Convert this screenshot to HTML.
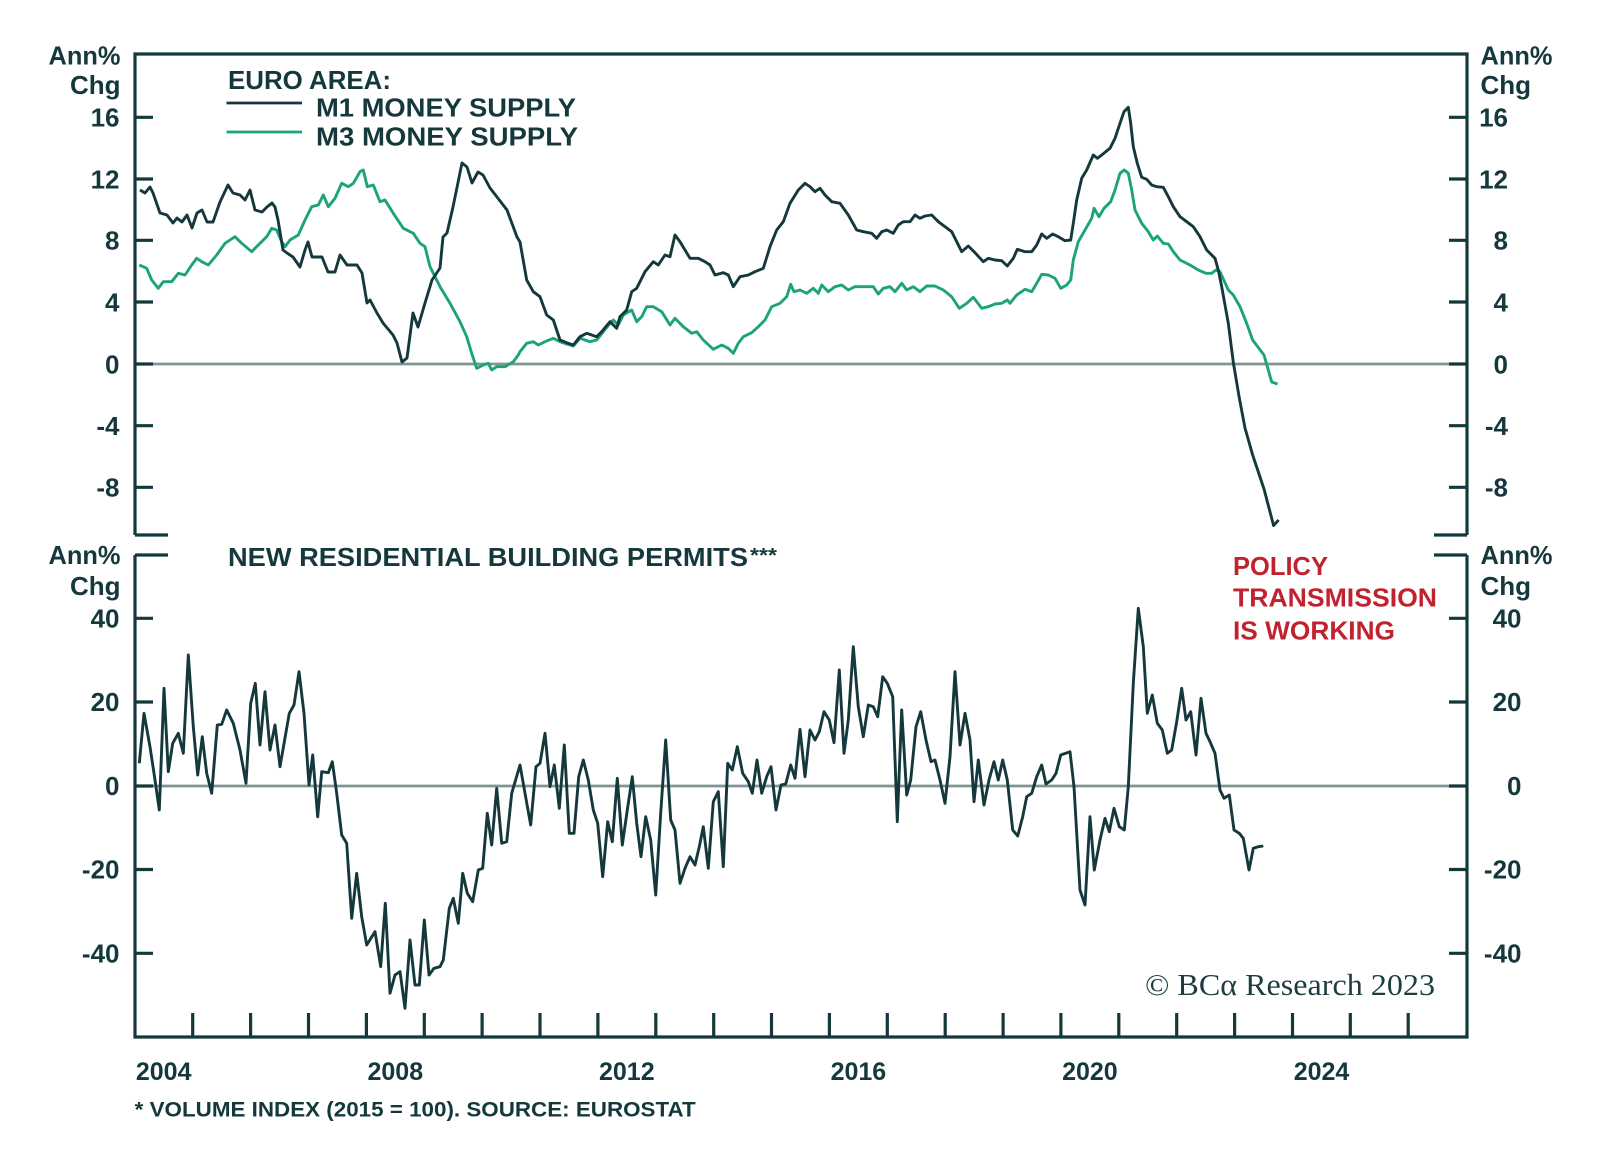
<!DOCTYPE html>
<html>
<head>
<meta charset="utf-8">
<style>
html,body{margin:0;padding:0;background:#ffffff;}
svg{display:block;}
text{font-family:"Liberation Sans",Arial,sans-serif;font-weight:bold;fill:#14383c;}
</style>
</head>
<body>
<svg width="1600" height="1160" viewBox="0 0 1600 1160" xmlns="http://www.w3.org/2000/svg">
<rect x="0" y="0" width="1600" height="1160" fill="#ffffff"/>

<!-- zero lines -->
<line x1="136" y1="364" x2="1466" y2="364" stroke="#7f9594" stroke-width="2.8"/>
<line x1="136" y1="786" x2="1466" y2="786" stroke="#7f9594" stroke-width="2.8"/>

<!-- frames -->
<g stroke="#14383c" stroke-width="3.2" fill="none">
  <polyline points="135,535 135,54 1467,54 1467,535"/>
  <line x1="135" y1="535" x2="168" y2="535"/>
  <line x1="1434" y1="535" x2="1467" y2="535"/>
  <polyline points="135,555 135,1037 1467,1037 1467,555"/>
  <line x1="135" y1="555" x2="168" y2="555"/>
  <line x1="1434" y1="555" x2="1467" y2="555"/>
  <!-- top y ticks -->
  <path d="M135 117.3H153M135 179H153M135 240.3H153M135 302H153M135 364H153M135 425.7H153M135 487.3H153"/>
  <path d="M1449 117.3H1467M1449 179H1467M1449 240.3H1467M1449 302H1467M1449 364H1467M1449 425.7H1467M1449 487.3H1467"/>
  <!-- bottom y ticks -->
  <path d="M135 618.3H153M135 702H153M135 786H153M135 869.5H153M135 953.3H153"/>
  <path d="M1449 618.3H1467M1449 702H1467M1449 786H1467M1449 869.5H1467M1449 953.3H1467"/>
  <!-- x ticks -->
  <path d="M192.7 1013V1037M250.6 1013V1037M308.5 1013V1037M366.4 1013V1037M424.3 1013V1037M482.1 1013V1037M540 1013V1037M597.9 1013V1037M655.8 1013V1037M713.7 1013V1037M771.5 1013V1037M829.4 1013V1037M887.3 1013V1037M945.2 1013V1037M1003.1 1013V1037M1060.9 1013V1037M1118.8 1013V1037M1176.7 1013V1037M1234.6 1013V1037M1292.5 1013V1037M1350.3 1013V1037M1408.2 1013V1037"/>
</g>

<!-- M3 series -->
<polyline fill="none" stroke="#1ca37a" stroke-width="2.9" stroke-linejoin="round" points="139.3,265 146.7,268.3 151.7,280 158.3,288.3 163.3,281.7 171.7,281.7 178.3,273.3 185,275 191.7,265 196.7,258.3 201.7,261.7 208.3,265 216.7,255 225,243.3 235,236.7 241.7,243.3 251.7,251.7 260,243.3 266.7,236.7 271.7,228.3 276.7,230 281.7,241.7 285,246.7 290,240 298.3,235 305,220 311.7,206.7 318.3,205 323.3,195 328.3,206.7 335,198.3 341.7,183.3 348.3,186.7 353.3,183.3 360,171.7 363.3,170 367.3,186.7 373.3,185 380,201.7 385,200 393.3,213.3 403.3,228.3 413.3,233.3 420,243.3 425,246.7 430,266.7 440,286.7 450,303.3 460,321.7 466.7,336.7 471.7,353.3 476.7,368.3 483.3,365 488.3,363.3 491.7,370 496.7,366.7 505,366.7 513.3,361.7 518.3,355 520,351.7 526.7,343.3 533.3,341.7 538.3,345 545,341.7 553.3,338.3 560,341.7 566.7,344 573.3,346 580,338.3 585,340 590,341.7 596.7,340 603.3,331.7 610,323.3 613.3,320 618.3,325 623.3,315 631.7,310 636.7,321.7 641.7,316.7 646.7,306.7 653.3,306.7 661.7,311.7 670,325 675,318.3 683.3,326.7 691.7,333.3 696.7,331.7 703.3,340 713.3,349.3 721.7,345 728.3,348.3 733.3,353.3 738.3,343.3 743.3,336.7 751.7,332.7 758.3,326.7 765,320 771.7,306.7 780,303.3 786.7,296.7 790.7,284.3 794,291.7 800,290 806.7,293.3 813.3,288.3 818.3,293.3 821.7,285 828.3,291.7 835,286.7 841.7,285 848.3,290 855,286.7 863.3,286.7 873.3,286.7 878.3,294 883.3,288.3 890,286.7 895,291.7 901.7,283.3 906.7,290 913.3,286.7 920,291.7 926.7,286 935,286 943.3,290 951.7,296.7 959.3,308.3 966.7,303.3 973.3,297.3 981.7,308.3 988.3,306.7 995,304 1001.7,303.3 1007.3,300 1010,303.3 1016.7,295 1025,289.3 1031.7,291.7 1036.7,283.3 1041.7,274.3 1048.3,275 1055,278.3 1060.7,288.3 1066.7,285 1070.7,280 1073.3,260 1078.3,241.7 1085,230 1091.7,218.3 1094,208.3 1099,216.7 1104,208.3 1110.7,201.7 1115,190 1120,173.3 1124.3,170 1128.3,173.3 1131.7,190 1135,210 1141.7,223.3 1148.3,231.7 1153.3,240 1157.3,236 1163.3,243.3 1168.3,244 1173.3,251.7 1180,260 1190,265 1198.3,270 1206,273.3 1211.7,273.3 1216,270 1220,271.7 1228.3,290 1233.3,295 1240,306.7 1246.7,323.3 1252.6,340 1264,355 1271.7,382 1277.5,384"/>

<!-- M1 series -->
<polyline fill="none" stroke="#14383c" stroke-width="2.9" stroke-linejoin="round" points="140,190 145,193 150,187 153,193 160,213 167,215 173,223 177,218 182,222 187,215 192,228 197,213 202,210 207,222 213,222 220,202 228,185 233,193 240,195 245,200 250,190 255,210 262,212 267,207 272,203 275,207 278,220 283,250 287,253 293,257 300,267 305,250 308,242 312,257 322,257 328,272 335,272 340,255 347,265 357,265 362,273 367,303 370,300 377,313 383,323 393,335 397,343 402,362 407,358 413,313 418,327 425,303 432,280 440,268 443,237 447,233 453,207 462,163 467,167 472,183 478,172 483,175 490,188 497,197 507,210 517,237 520,242 526.7,280 533.3,291.7 540,296.7 546.7,315 553.3,320 560,340 566.7,342.7 573.3,345 580,336.7 586.7,333.3 591.7,335 596.7,336.7 601.7,331.7 610,321.7 616.7,328.3 620,316.7 626.7,310 631.7,291.7 636.7,288.3 645,271.7 653.3,261.7 658.3,265 665,255 670,256.7 675,235 680,241.7 690,258.3 698.3,258.3 705,261.7 710,265 715,275 723.3,272.7 728.3,275 733.3,286.7 740,276.7 748.3,275 755,271.7 763.3,268.3 770,246.7 776.7,230 783.3,221.7 790,203.3 798.3,190 805,183.3 810,186.7 815,191.7 820,188.3 825,195 831.7,201.7 840,203.3 848.3,215 856.7,230 863.3,231.7 871.7,233.3 876.7,238.3 881.7,231.7 886.7,230 893.3,233.3 898.3,225 903.3,221.7 910,221.7 915,215 920,218.3 925,216 931.7,215 938.3,221.7 945,226.7 951.7,231.7 956.7,241.7 961.7,251.7 968.3,246 975,252.7 983.3,261.7 988.3,258.3 995,260 1001.7,260.7 1007.3,266 1013.3,258.3 1017.3,249.3 1025,251.7 1031.7,251.7 1036.7,245 1041.7,234 1046.7,238.3 1052.7,234 1058.3,236.7 1065,240.7 1070.7,240 1073.3,223.3 1076.7,200 1081.7,178.3 1086.7,170 1093.3,155 1097.3,158.3 1101.7,155 1110,148.3 1115,138.3 1120,123.3 1124,111.7 1128.3,107.3 1130.7,123.3 1133.3,146.7 1137.3,163.3 1141.7,177.3 1146.7,179.3 1151.7,185 1156.7,186.7 1163.3,187.3 1168.3,196.7 1173.3,206.7 1180,216.7 1186.7,221.7 1193.3,226.7 1200,236.7 1206.7,250 1215,258.3 1218.3,270 1221.7,286.7 1228.3,323.3 1233.4,363 1239.2,397.4 1245,428 1252.6,454.8 1264,489 1273.6,525.6 1278.6,519.9"/>

<!-- Building permits series -->
<polyline fill="none" stroke="#14383c" stroke-width="2.9" stroke-linejoin="round" points="139.3,763.3 144,713.3 150,746.7 155,780 159.3,810 164,688.3 168.3,771.7 172.7,743.3 178.3,733.3 183.3,753.3 188.3,655 193.3,726.7 197.7,775 202.3,736.7 206.7,773.3 211.7,793.3 217.3,725 221.7,724.3 226.7,710 233.3,723.3 240,750 246,783.3 250.7,703.3 255.3,683.3 260,745 265,691.7 270,750 275,725 280,766.7 289.3,713.3 294,705 299,671.7 304,713.3 309,785 312.7,755 317.7,816.7 321.7,771.7 328.3,772.7 332.3,761.7 336.7,793.3 341.7,835 346.7,843.3 351.7,918.3 356.7,873.3 361.7,916.7 366.7,945 375,931.7 380.7,966.7 385.3,903.3 390,993.3 395,975 400,971.7 405,1008.3 410,940 415,985 419.3,985 424.3,920 429,975 434,968.3 440,966.7 443.3,960 449.3,908.3 453.3,898.3 458.3,923.3 462.7,873.3 467.3,893.3 472.7,901.7 478.3,870 482.7,868.3 487.3,813.3 491.7,845 496.7,788.3 501.7,843.3 506.7,841.7 511.7,793.3 520,765 525,793.3 530.7,825 536,766.7 540,763.3 545,733.3 550,786.7 554.3,765 559.3,808.3 564.3,745 569.3,833.3 574,833.3 578.7,776.7 583.3,760 588.3,780 593.3,810 597.7,823.3 602.7,876.7 607.7,821.7 612.3,841.7 617.3,778.3 622.3,845 627.3,810 632.3,776.7 636.7,823.3 641,856.7 645.7,816.7 650.7,840 655.7,895 660.7,813.3 665.7,740 670.7,820 675,830 680,883.3 685,868.3 690,856.7 695,865 699.3,846.7 703.3,826.7 708.3,868.3 713.3,801.7 718.3,791.7 723.3,866.7 727.7,763.3 732.3,770 737.3,746.7 742.7,773.3 748.3,781.7 752.3,793.3 757,760 761.7,793.3 766.7,776.7 771,766.7 776,810 781,785 785.7,784 790.7,765 795,778.3 800,729.3 805,776.7 810,730 815,740 819.3,731.7 824,711.7 829.3,720 834,742.7 839.3,670 844,753.3 848.3,720 853.3,646.7 858.3,706.7 863.3,736.7 868.3,705 873.3,706.7 877.7,716.7 882.7,676.7 887.3,683.3 892.7,696.7 897.3,821.7 901.7,710 906.7,795 910.7,780 916,726.7 920.7,711.7 926,740 931,761.7 935,760 940,780 945,803.3 950,756.7 955,671.7 960,745 965,713.3 970,740 974,801.7 978.3,760 984,805 989,780 994,761.7 998.3,780 1002.7,760 1007.3,780 1012.7,830 1017.7,836 1022.7,816.7 1026.7,796.7 1031.7,793.3 1036.7,776.7 1041.7,765 1046,784 1051.7,780 1056,773.3 1060.7,755 1070,751.7 1074,786.7 1080,890 1085,905 1090,816.7 1094.3,870 1100,840 1105,818.3 1109.3,831.7 1114,808.3 1119.3,826.7 1124.3,830 1128.3,786.7 1133.3,683.3 1138.3,608.3 1143.3,646.7 1147.3,713.3 1152.3,695 1157.3,723.3 1162.3,730 1167.3,753.3 1171.7,750 1176.7,721.7 1181.7,688.3 1186,720 1190.7,711.7 1196,755 1201,698.3 1206,733.3 1210.7,743.3 1215,753.3 1220,790 1224,798.3 1229.3,795 1234,830 1239.3,833.3 1243.3,838.3 1249,870 1253.3,848.3 1258.3,846.7 1263.3,846"/>

<!-- legend -->
<line x1="226.5" y1="103" x2="302" y2="103" stroke="#14383c" stroke-width="2.8"/>
<line x1="226.5" y1="132" x2="302" y2="132" stroke="#1ca37a" stroke-width="2.8"/>
<text x="228" y="89" font-size="26" textLength="163" lengthAdjust="spacingAndGlyphs">EURO AREA:</text>
<text x="316" y="116.5" font-size="26" textLength="260" lengthAdjust="spacingAndGlyphs">M1 MONEY SUPPLY</text>
<text x="316" y="145.5" font-size="26" textLength="262" lengthAdjust="spacingAndGlyphs">M3 MONEY SUPPLY</text>

<!-- bottom title -->
<text x="228" y="566" font-size="26" textLength="520" lengthAdjust="spacingAndGlyphs">NEW RESIDENTIAL BUILDING PERMITS</text>
<text x="750" y="562" font-size="20" textLength="27" lengthAdjust="spacingAndGlyphs">***</text>

<!-- red annotation -->
<g font-size="26">
<text x="1233" y="575" style="fill:#c0232f" textLength="95" lengthAdjust="spacingAndGlyphs">POLICY</text>
<text x="1233" y="606.7" style="fill:#c0232f" textLength="204" lengthAdjust="spacingAndGlyphs">TRANSMISSION</text>
<text x="1233" y="639.3" style="fill:#c0232f" textLength="162" lengthAdjust="spacingAndGlyphs">IS WORKING</text>
</g>

<!-- left axis labels top -->
<g font-size="26" text-anchor="end">
<text x="120.5" y="64.5" textLength="72" lengthAdjust="spacingAndGlyphs">Ann%</text>
<text x="120.5" y="94">Chg</text>
<text x="119.5" y="126.5">16</text>
<text x="119.5" y="188.5">12</text>
<text x="119.5" y="249.5">8</text>
<text x="119.5" y="311.5">4</text>
<text x="119.5" y="373.5">0</text>
<text x="119.5" y="435">-4</text>
<text x="119.5" y="496.5">-8</text>
</g>
<!-- right axis labels top -->
<g font-size="26">
<text x="1480.5" y="64.5" textLength="72" lengthAdjust="spacingAndGlyphs">Ann%</text>
<text x="1480.5" y="94">Chg</text>
</g>
<g font-size="26" text-anchor="end">
<text x="1508" y="126.5">16</text>
<text x="1508" y="188.5">12</text>
<text x="1508" y="249.5">8</text>
<text x="1508" y="311.5">4</text>
<text x="1508" y="373.5">0</text>
<text x="1508" y="435">-4</text>
<text x="1508" y="496.5">-8</text>
</g>

<!-- left axis labels bottom -->
<g font-size="26" text-anchor="end">
<text x="120.5" y="564" textLength="72" lengthAdjust="spacingAndGlyphs">Ann%</text>
<text x="120.5" y="595">Chg</text>
<text x="119.5" y="627.5">40</text>
<text x="119.5" y="711">20</text>
<text x="119.5" y="795">0</text>
<text x="119.5" y="878.5">-20</text>
<text x="119.5" y="962.3">-40</text>
</g>
<!-- right axis labels bottom -->
<g font-size="26">
<text x="1480.5" y="564" textLength="72" lengthAdjust="spacingAndGlyphs">Ann%</text>
<text x="1480.5" y="595">Chg</text>
</g>
<g font-size="26" text-anchor="end">
<text x="1521.5" y="627.5">40</text>
<text x="1521.5" y="711">20</text>
<text x="1521.5" y="795">0</text>
<text x="1521.5" y="878.5">-20</text>
<text x="1521.5" y="962.3">-40</text>
</g>

<!-- x labels -->
<g font-size="25" text-anchor="middle">
<text x="163.7" y="1080">2004</text>
<text x="395.3" y="1080">2008</text>
<text x="626.8" y="1080">2012</text>
<text x="858.4" y="1080">2016</text>
<text x="1089.9" y="1080">2020</text>
<text x="1321.5" y="1080">2024</text>
</g>

<!-- copyright -->
<text x="1145" y="995" font-size="31" textLength="290" lengthAdjust="spacingAndGlyphs" style="font-family:'Liberation Serif',serif;font-weight:normal;fill:#1d3d40">© BCα Research 2023</text>

<!-- footnote -->
<text x="134.7" y="1116.5" font-size="21" textLength="561" lengthAdjust="spacingAndGlyphs">* VOLUME INDEX (2015 = 100). SOURCE: EUROSTAT</text>
</svg>
</body>
</html>
